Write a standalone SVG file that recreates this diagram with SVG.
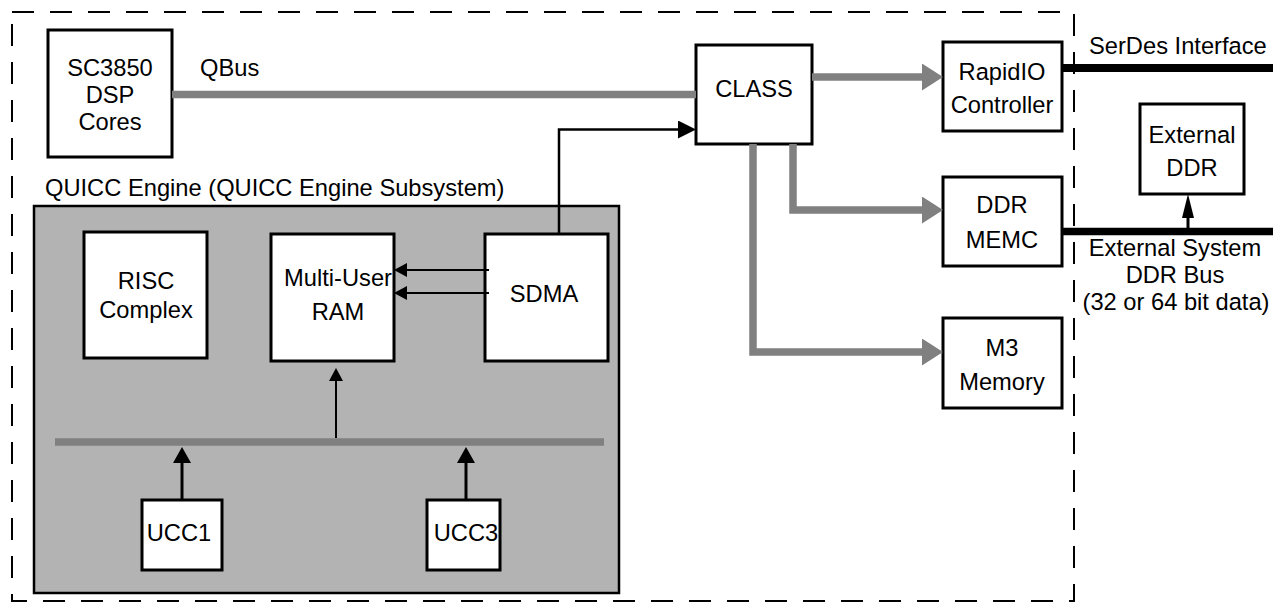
<svg xmlns="http://www.w3.org/2000/svg" width="1273" height="612" viewBox="0 0 1273 612">
<style>
text{font-family:"Liberation Sans",Arial,sans-serif;font-size:23.7px;fill:#000}
.c{text-anchor:middle}
.box{fill:#fff;stroke:#000;stroke-width:3}
.gbus{fill:none;stroke:#808080;stroke-width:7.5}
.blk{fill:none;stroke:#000}
</style>
<defs>
<marker id="ahGrey" markerUnits="userSpaceOnUse" markerWidth="21" markerHeight="27" viewBox="0 0 21 27" refX="0" refY="13.5" orient="auto"><path d="M0,0 L21,13.5 L0,27 z" fill="#808080"/></marker>
<marker id="ah18" markerUnits="userSpaceOnUse" markerWidth="18" markerHeight="18" viewBox="0 0 18 18" refX="0" refY="9" orient="auto"><path d="M0,0 L18,9 L0,18 z" fill="#000"/></marker>
<marker id="ah13" markerUnits="userSpaceOnUse" markerWidth="13" markerHeight="14" viewBox="0 0 13 14" refX="0" refY="7" orient="auto"><path d="M0,0 L13,7 L0,14 z" fill="#000"/></marker>
<marker id="ah16" markerUnits="userSpaceOnUse" markerWidth="16" markerHeight="18" viewBox="0 0 16 18" refX="0" refY="9" orient="auto"><path d="M0,0 L16,9 L0,18 z" fill="#000"/></marker>
<marker id="ah24" markerUnits="userSpaceOnUse" markerWidth="24" markerHeight="12" viewBox="0 0 24 12" refX="0" refY="6" orient="auto"><path d="M0,0 L24,6 L0,12 z" fill="#000"/></marker>
</defs>
<rect width="1273" height="612" fill="#fff"/>
<g id="boundary">
<rect x="12" y="12" width="1062" height="589" fill="none" stroke="#000" stroke-width="2" stroke-dasharray="22 16"/>
</g>
<g id="quicc-engine">
<rect x="34" y="206" width="585" height="387" fill="#b3b3b3" stroke="#000" stroke-width="2.5"/>
<text x="45" y="196">QUICC Engine (QUICC Engine Subsystem)</text>
</g>
<g id="sc3850">
<rect class="box" x="48" y="30" width="124" height="127"/>
<text class="c" x="110" y="76">SC3850</text>
<text class="c" x="110" y="103">DSP</text>
<text class="c" x="110" y="130">Cores</text>
</g>
<g id="class">
<rect class="box" x="696" y="45" width="116" height="99"/>
<text class="c" x="754" y="97">CLASS</text>
</g>
<g id="rapidio">
<rect class="box" x="943" y="42" width="119" height="89"/>
<text class="c" x="1002" y="80">RapidIO</text>
<text class="c" x="1002" y="113">Controller</text>
</g>
<g id="ddr-memc">
<rect class="box" x="943" y="177" width="119" height="89"/>
<text class="c" x="1002" y="213">DDR</text>
<text class="c" x="1002" y="248">MEMC</text>
</g>
<g id="m3-memory">
<rect class="box" x="943" y="318" width="119" height="90"/>
<text class="c" x="1002" y="356">M3</text>
<text class="c" x="1002" y="390">Memory</text>
</g>
<g id="external-ddr">
<rect class="box" x="1140" y="104" width="104" height="90"/>
<text class="c" x="1192" y="143">External</text>
<text class="c" x="1192" y="176">DDR</text>
</g>
<g id="risc">
<rect class="box" x="84" y="232" width="123" height="126"/>
<text class="c" x="146" y="289">RISC</text>
<text class="c" x="146" y="318">Complex</text>
</g>
<g id="mu-ram">
<rect class="box" x="271" y="234" width="123" height="127"/>
<text class="c" x="338" y="286">Multi-User</text>
<text class="c" x="338" y="320">RAM</text>
</g>
<g id="sdma">
<rect class="box" x="485" y="234" width="123" height="127"/>
<text class="c" x="544" y="302">SDMA</text>
</g>
<g id="ucc1">
<rect class="box" x="142" y="500" width="80" height="70"/>
<text class="c" x="179" y="541">UCC1</text>
</g>
<g id="ucc3">
<rect class="box" x="427" y="500" width="73" height="70"/>
<text class="c" x="466" y="541">UCC3</text>
</g>
<g id="connectors">
<path class="gbus" d="M172,94.5 H696"/>
<text x="200" y="76">QBus</text>
<path class="gbus" d="M812,77 H922" marker-end="url(#ahGrey)"/>
<path class="gbus" d="M793,144 V210 H922" marker-end="url(#ahGrey)"/>
<path class="gbus" d="M753,144 V352 H922" marker-end="url(#ahGrey)"/>
<path class="gbus" d="M55,442 H604" stroke-width="8"/>
<path class="blk" stroke-width="2.5" d="M559,234 V129.5 H678" marker-end="url(#ah18)"/>
<path class="blk" stroke-width="2" d="M489,270 H407" marker-end="url(#ah13)"/>
<path class="blk" stroke-width="2" d="M489,293 H407" marker-end="url(#ah13)"/>
<path class="blk" stroke-width="2" d="M336,438 V381" marker-end="url(#ah13)"/>
<path class="blk" stroke-width="3" d="M182,500 V463" marker-end="url(#ah16)"/>
<path class="blk" stroke-width="3" d="M466,500 V463" marker-end="url(#ah16)"/>
<path class="blk" stroke-width="8" d="M1062,68 H1273"/>
<text x="1089" y="54">SerDes Interface</text>
<path class="blk" stroke-width="7.5" d="M1062,231.5 H1273"/>
<path class="blk" stroke-width="3" d="M1188,228 V218" marker-end="url(#ah24)"/>
<text class="c" x="1175" y="256">External System</text>
<text class="c" x="1175" y="283">DDR Bus</text>
<text class="c" x="1176" y="310">(32 or 64 bit data)</text>
</g>
</svg>
